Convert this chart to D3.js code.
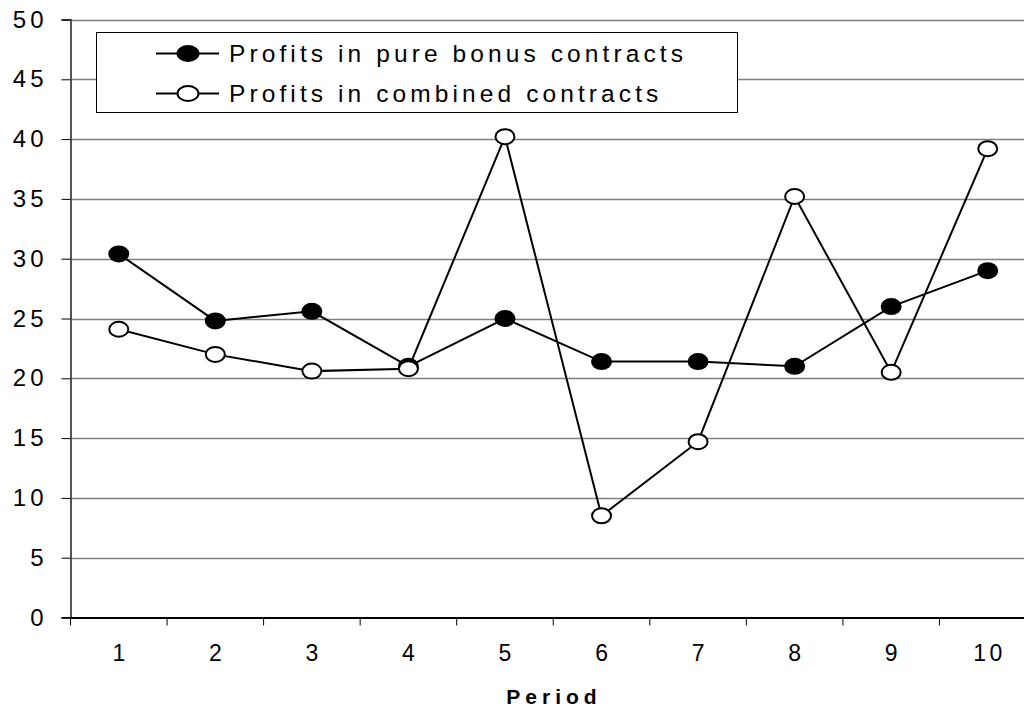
<!DOCTYPE html>
<html>
<head>
<meta charset="utf-8">
<script src="https://cdn.jsdelivr.net/npm/d3@7"></script>
<style>
  body { margin: 0; background: #fff; }
  text { font-family: "Liberation Sans", Arial, sans-serif; fill: #000; }
</style>
</head>
<body>
<div id="chart"></div>
<script>
var periods = ['1', '2', '3', '4', '5', '6', '7', '8', '9', '10'];
var pureBonus = [30.4, 24.8, 25.6, 21.0, 25.0, 21.4, 21.4, 21.0, 26.0, 29.0];
var combined = [24.1, 22.0, 20.6, 20.8, 40.2, 8.5, 14.7, 35.2, 20.5, 39.2];
var yTicks = [0, 5, 10, 15, 20, 25, 30, 35, 40, 45, 50];
var seriesNames = ['Profits in pure bonus contracts', 'Profits in combined contracts'];

var width = 1024, height = 708;
var plotLeft = 70.5, plotRight = 1036, plotTop = 19.5, plotBottom = 617.5;

var svg = d3.select('#chart').append('svg')
  .attr('width', width).attr('height', height);

var x = d3.scaleBand().domain(periods).range([plotLeft, plotRight]);
var y = d3.scaleLinear().domain([0, 50]).range([plotBottom, plotTop]);

// gridlines
svg.append('g').selectAll('line').data(yTicks.slice(1)).enter().append('line')
  .attr('x1', plotLeft).attr('x2', width)
  .attr('y1', function (d) { return Math.round(y(d)) + 0.5; })
  .attr('y2', function (d) { return Math.round(y(d)) + 0.5; })
  .attr('stroke', '#808080').attr('stroke-width', 1.5);

// y axis
var yAxis = svg.append('g').attr('transform', 'translate(' + plotLeft + ',0)')
  .call(d3.axisLeft(y).tickValues(yTicks).tickSize(9).tickPadding(14));
yAxis.select('.domain').attr('stroke', '#555').attr('stroke-width', 2);
yAxis.selectAll('.tick line').attr('stroke', '#000');
yAxis.selectAll('.tick text').attr('font-size', 24).attr('letter-spacing', 4)
  .attr('font-family', '"Liberation Sans", Arial, sans-serif').attr('fill', '#000');

// x axis
var xAxis = svg.append('g').attr('transform', 'translate(0,' + plotBottom + ')')
  .call(d3.axisBottom(x).tickSize(0).tickPadding(27));
xAxis.select('.domain').attr('stroke', '#000').attr('stroke-width', 2);
xAxis.selectAll('.tick text').attr('font-size', 23).attr('letter-spacing', 3.5)
  .attr('dx', 1.75)
  .attr('font-family', '"Liberation Sans", Arial, sans-serif').attr('fill', '#000');
// tick marks on band boundaries
svg.append('g').selectAll('line').data(periods).enter().append('line')
  .attr('x1', function (d) { return x(d); })
  .attr('x2', function (d) { return x(d); })
  .attr('y1', plotBottom).attr('y2', plotBottom + 8)
  .attr('stroke', '#000').attr('stroke-width', 1);
svg.append('line').attr('x1', plotLeft - 9).attr('x2', plotLeft)
  .attr('y1', plotBottom).attr('y2', plotBottom).attr('stroke', '#000');

svg.append('text')
  .attr('x', 554).attr('y', 704)
  .attr('text-anchor', 'middle').attr('font-size', 21).attr('font-weight', 'bold')
  .attr('letter-spacing', 5).text('Period');

function cx(d, i) { return x(periods[i]) + x.bandwidth() / 2; }

var line = d3.line()
  .x(function (d, i) { return x(periods[i]) + x.bandwidth() / 2; })
  .y(function (d) { return y(d); });

function drawSeries(data, fill) {
  svg.append('path').datum(data)
    .attr('d', line).attr('fill', 'none')
    .attr('stroke', '#000').attr('stroke-width', 2);
  svg.append('g').selectAll('ellipse').data(data).enter().append('ellipse')
    .attr('cx', cx).attr('cy', function (d) { return y(d); })
    .attr('rx', 9.5).attr('ry', 7.5)
    .attr('fill', fill).attr('stroke', '#000').attr('stroke-width', 2);
}
drawSeries(pureBonus, '#000');
drawSeries(combined, '#fff');

// legend
var legend = svg.append('g');
legend.append('rect')
  .attr('x', 96.5).attr('y', 32.5).attr('width', 641).attr('height', 80)
  .attr('fill', '#fff').attr('stroke', '#000').attr('stroke-width', 1);
var fills = ['#000', '#fff'];
seriesNames.forEach(function (name, i) {
  var ly = 53.5 + i * 40;
  legend.append('line').attr('x1', 156).attr('x2', 219).attr('y1', ly).attr('y2', ly)
    .attr('stroke', '#000').attr('stroke-width', 2);
  legend.append('ellipse').attr('cx', 188).attr('cy', ly).attr('rx', 10.5).attr('ry', 7.5)
    .attr('fill', fills[i]).attr('stroke', '#000').attr('stroke-width', 2);
  legend.append('text').attr('x', 229).attr('y', 62 + i * 40)
    .attr('font-size', 24.5).attr('letter-spacing', 4.1).text(name);
});
</script>
</body>
</html>
